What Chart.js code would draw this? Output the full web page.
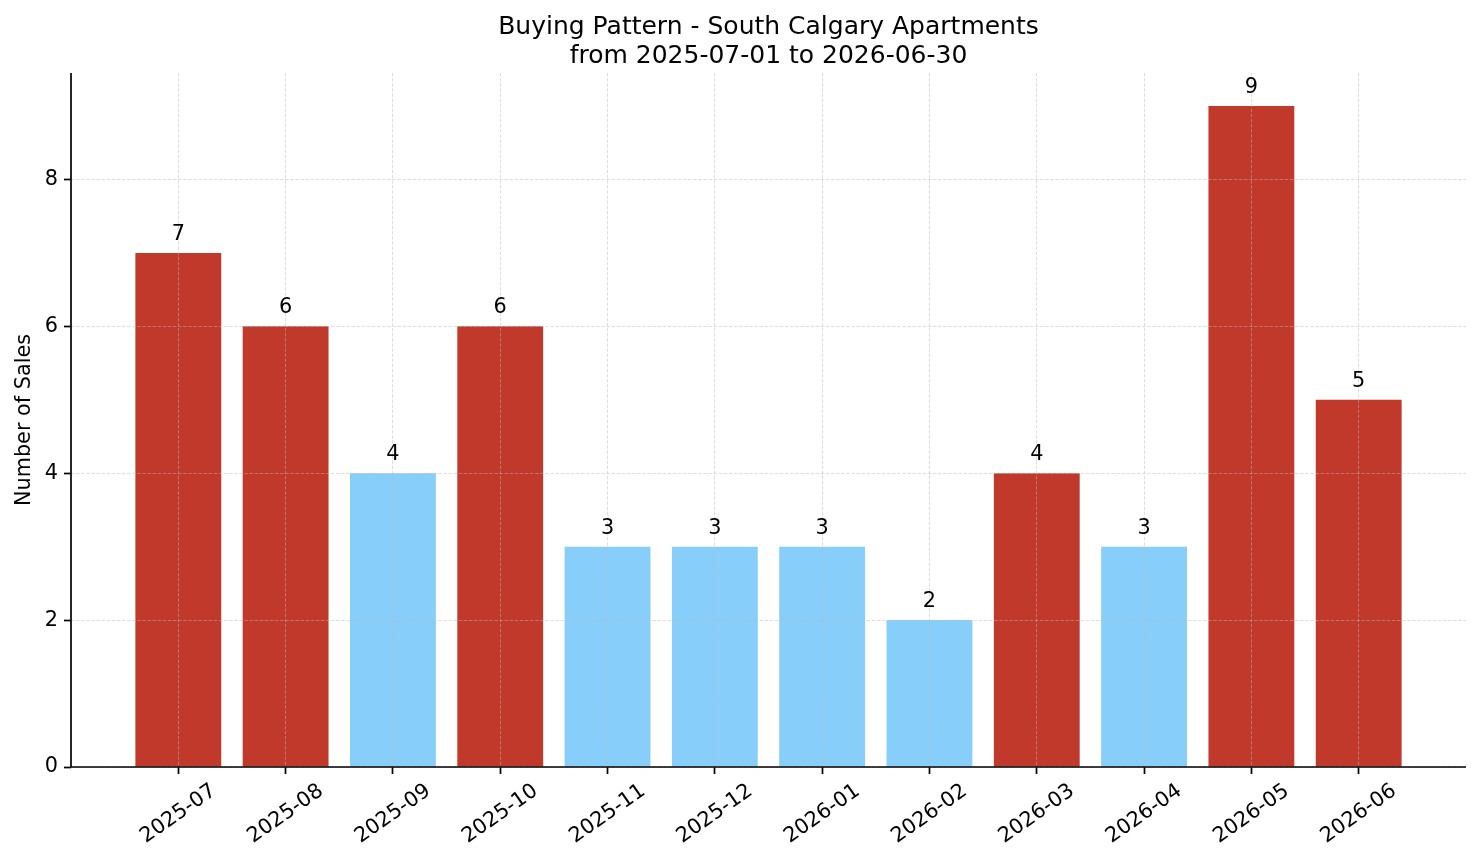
<!DOCTYPE html>
<html>
<head>
<meta charset="utf-8">
<title>Buying Pattern - South Calgary Apartments</title>
<script src="https://cdn.jsdelivr.net/npm/chart.js@4"></script>
<style>
  html, body { margin: 0; padding: 0; background: #fff; }
  #wrap { width: 1481px; height: 863px; }
</style>
</head>
<body>
<div id="wrap"><canvas id="salesChart" width="1481" height="863"></canvas></div>
<script>
// data
const months = ['2025-07', '2025-08', '2025-09', '2025-10', '2025-11', '2025-12',
                '2026-01', '2026-02', '2026-03', '2026-04', '2026-05', '2026-06'];
const sales = [7, 6, 4, 6, 3, 3, 3, 2, 4, 3, 9, 5];
// which months are drawn in red (the rest are light blue)
const highlighted = [true, true, false, true, false, false, false, false, true, false, true, true];
const yTicks = [0, 2, 4, 6, 8];
const titleLines = ['Buying Pattern - South Calgary Apartments', 'from 2025-07-01 to 2026-06-30'];

const RED = '#c0392b';
const BLUE = '#87cefa';
const FONT = '"DejaVu Sans", sans-serif';
const GRID = 'rgba(185,185,185,0.6)';

// title, solid left/bottom spines, value labels and rotated month labels
const annotate = {
    id: 'annotate',
    afterDraw(chart) {
        const ctx = chart.ctx;
        const area = chart.chartArea;
        const xs = chart.scales.x;
        ctx.save();

        // spines
        ctx.strokeStyle = '#000';
        ctx.lineWidth = 1.7;
        ctx.setLineDash([]);
        ctx.beginPath();
        ctx.moveTo(area.left, area.top);
        ctx.lineTo(area.left, area.bottom);
        ctx.lineTo(area.right, area.bottom);
        ctx.stroke();

        ctx.fillStyle = '#000';

        // title
        ctx.font = '25px ' + FONT;
        ctx.textAlign = 'center';
        ctx.textBaseline = 'alphabetic';
        const cx = (area.left + area.right) / 2;
        ctx.fillText(titleLines[0], cx, 34);
        ctx.fillText(titleLines[1], cx, 63);

        // numbers above the bars
        ctx.font = '20.8px ' + FONT;
        chart.getDatasetMeta(0).data.forEach(function(bar, i) {
            ctx.fillText(String(sales[i]), bar.x, bar.y - 13);
        });

        // month labels, rotated 35 degrees and centred under the tick
        ctx.textBaseline = 'middle';
        months.forEach(function(m, i) {
            const x = xs.getPixelForValue(i);
            ctx.save();
            ctx.translate(x, area.bottom + 47);
            ctx.rotate(-35 * Math.PI / 180);
            ctx.fillText(m, 0, 0);
            ctx.restore();
        });
        ctx.restore();
    }
};

const gridOpts = {
    offset: false,
    z: 1,
    color: GRID,
    lineWidth: 0.8,
    tickLength: 7,
    tickColor: '#000',
    tickWidth: 1.7,
    tickBorderDash: []
};

const chart = new Chart(document.getElementById('salesChart').getContext('2d'), {
    type: 'bar',
    data: {
        datasets: [{
            data: sales.map(function(v, i) { return { x: i, y: v }; }),
            backgroundColor: highlighted.map(function(h) { return h ? RED : BLUE; }),
            borderWidth: 0,
            barPercentage: 1,
            categoryPercentage: 0.8
        }]
    },
    options: {
        responsive: false,
        animation: false,
        devicePixelRatio: 1,
        layout: { padding: { top: 73, right: 15, left: 0, bottom: 0 } },
        plugins: {
            legend: { display: false },
            tooltip: { enabled: false },
            title: { display: false }
        },
        scales: {
            x: {
                type: 'linear',
                min: -1,
                max: 12,
                offset: false,
                afterBuildTicks(scale) {
                    scale.ticks = months.map(function(_, i) { return { value: i }; });
                },
                afterFit(scale) { scale.height = 96; },
                ticks: { display: false },
                grid: gridOpts,
                // border hidden (spines drawn by the plugin); dash is used by the grid lines
                border: { display: false, dash: [3.5, 1.6], z: 1 }
            },
            y: {
                min: 0,
                max: 9.45,
                afterBuildTicks(scale) {
                    scale.ticks = yTicks.map(function(v) { return { value: v }; });
                },
                afterFit(scale) { scale.width = 71; },
                ticks: {
                    padding: 6,
                    color: '#000',
                    font: { family: FONT, size: 20.8 }
                },
                grid: gridOpts,
                border: { display: false, dash: [3.5, 1.6], z: 1 },
                title: {
                    display: true,
                    text: 'Number of Sales',
                    color: '#000',
                    font: { family: FONT, size: 20.8 },
                    padding: { top: 12, bottom: 0 }
                }
            }
        }
    },
    plugins: [annotate]
});
</script>
</body>
</html>
